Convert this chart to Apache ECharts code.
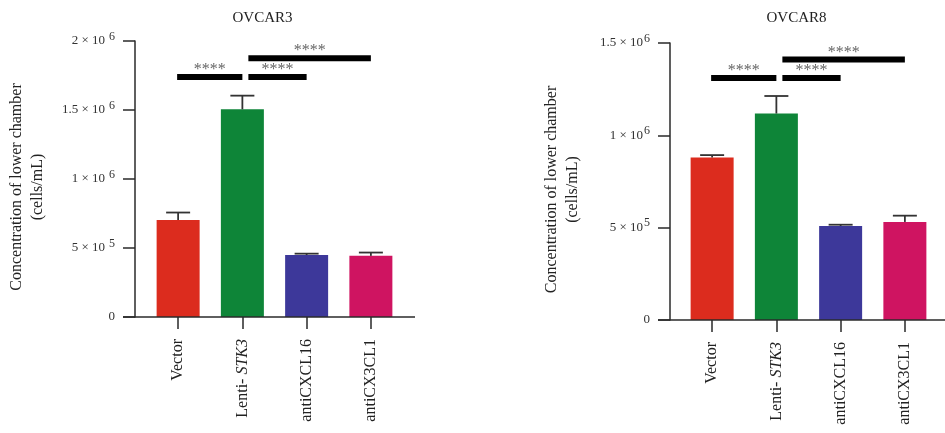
<!DOCTYPE html>
<html><head><meta charset="utf-8">
<script src="https://cdn.jsdelivr.net/npm/echarts@6/dist/echarts.min.js"></script>
<style>html,body{margin:0;padding:0;background:#fff}#c{width:945px;height:433px}</style>
</head><body><div id="c"></div>
<script>
// ---- data ----
const categories = ['Vector', 'Lenti- STK3', 'antiCXCL16', 'antiCX3CL1'];
const ovcar3Means = [0.703e6, 1.505e6, 0.449e6, 0.443e6];
const ovcar3Errors = [0.054e6, 0.099e6, 0.010e6, 0.024e6];
const ovcar8Means = [0.880e6, 1.118e6, 0.509e6, 0.531e6];
const ovcar8Errors = [0.013e6, 0.095e6, 0.007e6, 0.034e6];
// [from category, to category, height, label]
const ovcar3Sig = [[0, 1, 1.74e6, '****'], [1, 2, 1.74e6, '****'], [1, 3, 1.875e6, '****']];
const ovcar8Sig = [[0, 1, 1.31e6, '****'], [1, 2, 1.31e6, '****'], [1, 3, 1.41e6, '****']];
const ovcar3Ticks = ['0', '5 × 10^5', '1 × 10^6', '1.5 × 10^6', '2 × 10^6'];
const ovcar8Ticks = ['0', '5 × 10^5', '1 × 10^6', '1.5 × 10^6'];
const titles = ['OVCAR3', 'OVCAR8'];
const yName = 'Concentration of lower chamber\n(cells/mL)';

// ---- style ----
const barColors = ['#DC2C1E', '#0E8538', '#3D389A', '#CF1461'];
const FONT = '"Liberation Serif", "DejaVu Serif", serif';
const AX = '#2a2a2a';
const grids = [
  {left: 146, top: 41, width: 257, height: 276, yOff: 11, max: 2e6, ticks: ovcar3Ticks},
  {left: 680, top: 43, width: 257, height: 277, yOff: 10, max: 1.5e6, ticks: ovcar8Ticks}
];

function tickFormatter(ticks) {
  return function (v) {
    const s = ticks[Math.round(v / 5e5)] || '';
    const p = s.split('^');
    return p.length > 1 ? '{b|' + p[0] + '}{s|' + p[1] + '}' : '{b|' + s + '}';
  };
}

const option = {
  animation: false,
  backgroundColor: '#fff',
  title: grids.map((g, i) => ({
    text: titles[i], left: g.left + g.width / 2 - 17, top: 6, textAlign: 'center',
    textStyle: {fontFamily: FONT, fontWeight: 'normal', fontSize: 15, color: '#222'}
  })),
  grid: grids.map(g => ({left: g.left, top: g.top, width: g.width, height: g.height})),
  xAxis: grids.map((g, i) => ({
    type: 'category', gridIndex: i, data: categories,
    axisLine: {show: false},
    axisTick: {show: true, alignWithLabel: true, length: 12, lineStyle: {color: AX, width: 1.5}},
    axisLabel: {
      rotate: 90, margin: 22, fontFamily: FONT, fontSize: 16, color: '#222',
      formatter: v => v.replace('STK3', '{i|STK3}'),
      rich: {i: {fontStyle: 'italic', fontFamily: FONT, fontSize: 16, color: '#222'}}
    }
  })),
  yAxis: grids.map((g, i) => ({
    type: 'value', gridIndex: i, min: 0, max: g.max, interval: 5e5, offset: g.yOff,
    splitLine: {show: false},
    axisLine: {show: true, lineStyle: {color: AX, width: 1.5}},
    axisTick: {show: true, length: 12, lineStyle: {color: AX, width: 1.5}},
    axisLabel: {
      margin: 20, formatter: tickFormatter(g.ticks),
      rich: {
        b: {fontFamily: FONT, fontSize: 13, color: '#333'},
        s: {fontFamily: FONT, fontSize: 12, color: '#333', padding: [0, 0, 9, i === 0 ? 4 : 1]}
      }
    }
  })),
  series: []
};

function barSeries(means, idx) {
  return {
    type: 'bar', xAxisIndex: idx, yAxisIndex: idx, barWidth: 43,
    data: means.map((m, k) => ({value: m, itemStyle: {color: barColors[k]}}))
  };
}
function errSeries(means, errs, idx) {
  return {
    type: 'custom', xAxisIndex: idx, yAxisIndex: idx, z: 5,
    data: means.map((m, k) => [k, m, errs[k]]),
    encode: {x: 0, y: 1},
    renderItem: function (params, api) {
      const base = api.coord([api.value(0), api.value(1)]);
      const top = api.coord([api.value(0), api.value(1) + api.value(2)]);
      const st = {stroke: '#333', lineWidth: 1.8};
      return {type: 'group', children: [
        {type: 'line', shape: {x1: base[0], y1: base[1], x2: top[0], y2: top[1]}, style: st},
        {type: 'line', shape: {x1: top[0] - 12, y1: top[1], x2: top[0] + 12, y2: top[1]}, style: st}
      ]};
    }
  };
}
function sigSeries(sig, idx) {
  return {
    type: 'custom', xAxisIndex: idx, yAxisIndex: idx, z: 6,
    data: sig,
    encode: {x: [0, 1], y: 2},
    renderItem: function (params, api) {
      const a = api.coord([api.value(0), api.value(2)]);
      const b = api.coord([api.value(1), api.value(2)]);
      const x0 = a[0] + (api.value(0) > 0 ? 6 : -1);
      const x1 = b[0];
      return {type: 'group', children: [
        {type: 'rect', shape: {x: x0, y: a[1] - 3, width: x1 - x0, height: 6}, style: {fill: '#000'}},
        {type: 'text', style: {
          text: sig[params.dataIndex][3], x: (x0 + x1) / 2, y: a[1] - 7,
          align: 'center', verticalAlign: 'middle', textAlign: 'center', textVerticalAlign: 'middle',
          fontFamily: FONT, fontSize: 16, fill: '#666'
        }}
      ]};
    }
  };
}
option.series.push(barSeries(ovcar3Means, 0), errSeries(ovcar3Means, ovcar3Errors, 0), sigSeries(ovcar3Sig, 0));
option.series.push(barSeries(ovcar8Means, 1), errSeries(ovcar8Means, ovcar8Errors, 1), sigSeries(ovcar8Sig, 1));

// x-axis lines extend beyond the category band; y-axis names
option.graphic = [];
grids.forEach((g, i) => {
  const y0 = g.top + g.height;
  option.graphic.push({
    type: 'line', shape: {x1: g.left - g.yOff - 12, y1: y0, x2: g.left + g.width + 12, y2: y0},
    style: {stroke: AX, lineWidth: 1.5}, z: 10
  });
  option.graphic.push({
    type: 'text', x: g.left - g.yOff - 108, y: g.top + g.height / 2 + 8, rotation: Math.PI / 2,
    style: {
      text: yName, fontFamily: FONT, fontSize: 16, lineHeight: 21, fill: '#222',
      align: 'center', verticalAlign: 'middle', textAlign: 'center', textVerticalAlign: 'middle'
    }
  });
});

const chart = echarts.init(document.getElementById('c'), null, {renderer: 'canvas'});
chart.setOption(option);
</script>
</body></html>
